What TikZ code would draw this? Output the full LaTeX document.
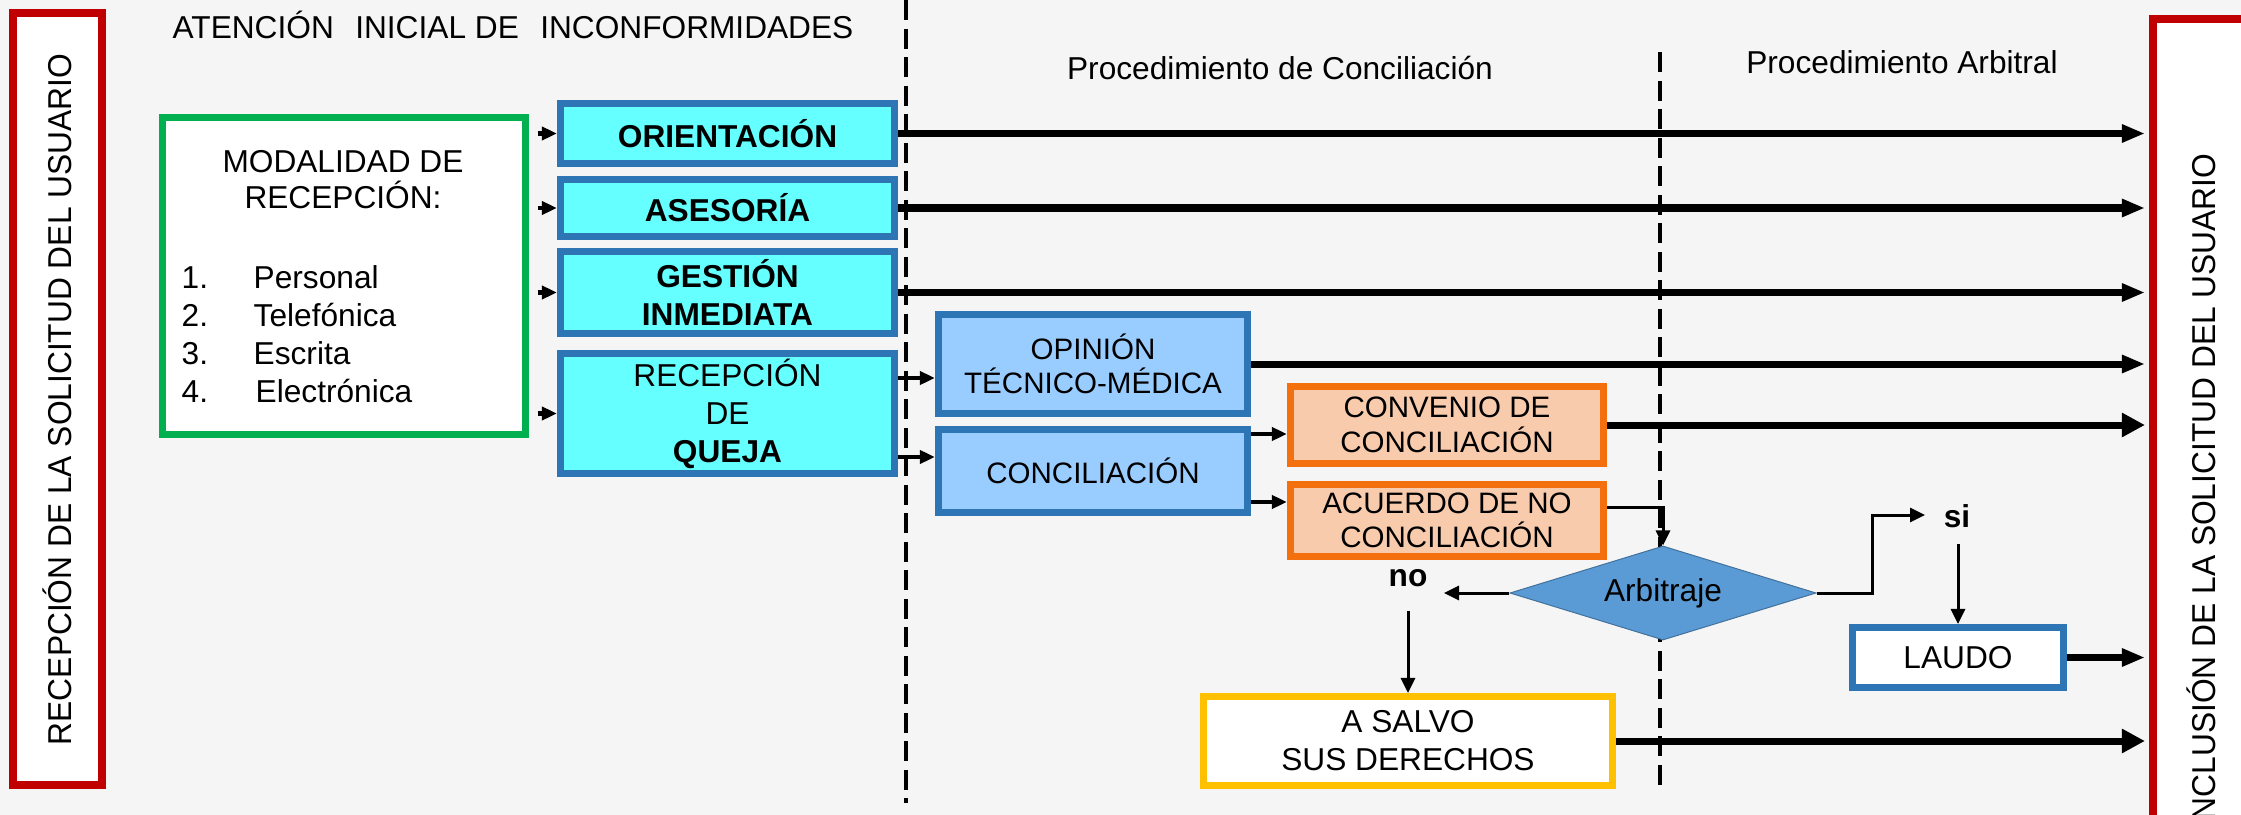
\documentclass[tikz,border=0pt]{standalone}
\usepackage{fontspec}
\setmainfont{Liberation Sans}
\usetikzlibrary{arrows.meta}
\usetikzlibrary{shapes.geometric}
\definecolor{fondo}{HTML}{F5F5F5}
\definecolor{rojo}{HTML}{C00000}
\definecolor{verde}{HTML}{00B050}
\definecolor{azulborde}{HTML}{2E75B6}
\definecolor{cian}{HTML}{66FFFF}
\definecolor{celeste}{HTML}{99CCFF}
\definecolor{naranja}{HTML}{F4700F}
\definecolor{salmon}{HTML}{F8CBAD}
\definecolor{rombo}{HTML}{5B9BD5}
\definecolor{romboborde}{HTML}{41719C}
\definecolor{oro}{HTML}{FFC000}
\tikzset{
	texto/.style={inner sep=0pt, font=\fontsize{9}{10.8}\selectfont},
	caja/.style={draw, rectangle, line width=0.07cm, align=center, inner sep=0pt,
		font=\fontsize{9}{10.8}\selectfont},
	cajacian/.style={caja, draw=azulborde, fill=cian},
	cajaceleste/.style={caja, draw=azulborde, fill=celeste, font=\fontsize{8.4}{9.8}\selectfont},
	cajanaranja/.style={caja, draw=naranja, fill=salmon, font=\fontsize{8.4}{9.8}\selectfont},
	lateral/.style={draw=rojo, fill=white, rectangle, line width=0.08cm, inner sep=0pt},
	vertical/.style={rotate=90, inner sep=0pt, font=\fontsize{9.4}{11}\selectfont},
	flecha/.style={line width=0.045cm, -{Triangle[length=0.15cm,width=0.13cm]}},
	salida/.style={line width=0.07cm, -{Triangle[length=0.23cm,width=0.17cm]}, shorten >=0.04cm},
	salidagrande/.style={salida, -{Triangle[length=0.23cm,width=0.23cm]}},
	linea/.style={line width=0.03cm, -{Triangle[length=0.15cm,width=0.14cm]}},
	division/.style={line width=0.04cm, dash pattern=on 0.2cm off 0.085cm}
}

\begin{document}
\begin{tikzpicture}[x=0.01cm, y=-0.01cm]
	\useasboundingbox (0,0) rectangle (2241,815);
	\clip (0,0) rectangle (2241,815);
	\fill[fondo] (0,0) rectangle (2241,815);
	
	% divisiones
	\draw[division] (905.5,0) -- (905.5,803);
	\draw[division] (1660,52) -- (1660,785);
	
	% encabezados
	\node[texto] (titulo) at (513,25) {ATENCIÓN\hspace{0.4em} INICIAL DE\hspace{0.4em} INCONFORMIDADES};
	\node[texto] (conciliacion) at (1280,68) {Procedimiento de Conciliación};
	\node[texto] (arbitral) at (1902,62) {Procedimiento Arbitral};
	
	% laterales
	\node[lateral, minimum width=0.89cm, minimum height=7.72cm] (inicio) at (57.5,399) {};
	\node[vertical, anchor=base] (recepcion) at (71,399.5) {\scalebox{0.96}[1]{RECEPCIÓN DE LA SOLICITUD DEL USUARIO}};
	\node[lateral, minimum width=2.47cm, minimum height=9.81cm] (final) at (2276.5,509.5) {};
	\node[vertical, anchor=base east] (conclusion) at (2215,153) {\scalebox{0.96}[1]{CONCLUSIÓN DE LA SOLICITUD DEL USUARIO}};
	
	% modalidad de recepcion
	\node[caja, draw=verde, fill=white, minimum width=3.63cm, minimum height=3.17cm] (modalidad) at (344,276) {};
	\node[texto, align=center, font=\fontsize{9}{10.2}\selectfont] (modtitulo) at (343,180) {MODALIDAD DE\\RECEPCIÓN:};
	\node[texto, anchor=base west] (m1) at (181,288) {\makebox[0.72cm][l]{1.}Personal};
	\node[texto, anchor=base west] (m2) at (181,326) {\makebox[0.72cm][l]{2.}Telefónica};
	\node[texto, anchor=base west] (m3) at (181,364) {\makebox[0.72cm][l]{3.}Escrita};
	\node[texto, anchor=base west] (m4) at (181,402) {\makebox[0.72cm][l]{4.}\hspace{0.02cm}Electrónica};
	
	% atencion inicial
	\node[cajacian, minimum width=3.34cm, minimum height=0.60cm] (orientacion) at (727.5,133.5) {\textbf{ORIENTACIÓN}};
	\node[cajacian, minimum width=3.34cm, minimum height=0.57cm] (asesoria) at (727.5,208) {\textbf{ASESORÍA}};
	\node[cajacian, minimum width=3.34cm, minimum height=0.82cm] (gestion) at (727.5,292.5) {\textbf{GESTIÓN}\\\textbf{INMEDIATA}};
	\node[cajacian, minimum width=3.34cm, minimum height=1.20cm] (queja) at (727.5,413.5) {RECEPCIÓN\\DE\\\textbf{QUEJA}};
	
	% conciliacion
	\node[cajaceleste, minimum width=3.09cm, minimum height=0.99cm] (opinion) at (1093,364) {OPINIÓN\\TÉCNICO-MÉDICA};
	\node[cajaceleste, minimum width=3.09cm, minimum height=0.83cm] (concilia) at (1093,471) {CONCILIACIÓN};
	\node[cajanaranja, minimum width=3.13cm, minimum height=0.77cm] (convenio) at (1447,425) {CONVENIO DE\\CONCILIACIÓN};
	\node[cajanaranja, minimum width=3.13cm, minimum height=0.72cm] (acuerdo) at (1447,520.5) {ACUERDO DE NO\\CONCILIACIÓN};
	
	% arbitraje
	\node[diamond, draw=romboborde, fill=rombo, line width=0.01cm, aspect=3.25, inner sep=0pt,
		minimum width=3.06cm, minimum height=0.94cm, font=\fontsize{9}{10.8}\selectfont] (arbitraje) at (1663,593) {Arbitraje};
	\node[texto, font=\fontsize{9}{10.8}\selectfont\bfseries] (no) at (1408,578) {no};
	\node[texto, font=\fontsize{9}{10.8}\selectfont\bfseries] (si) at (1957,516) {si};
	\node[caja, draw=oro, fill=white, minimum width=4.09cm, minimum height=0.89cm] (salvo) at (1408,741) {A SALVO\\SUS DERECHOS};
	\node[caja, draw=azulborde, fill=white, minimum width=2.11cm, minimum height=0.60cm] (laudo) at (1958,657.5) {LAUDO};
	
	\coordinate (q1) at ([yshift=-0.14cm]opinion.west);
	\coordinate (q2) at ([yshift=0.14cm]concilia.west);
	\coordinate (c1) at ([yshift=-0.09cm]convenio.west);
	\coordinate (c2) at ([yshift=0.185cm]acuerdo.west);
	\coordinate (nofin) at (1444,593);
	\coordinate (noini) at (1408,611);
	\coordinate (sifin) at (1925,515);
	\coordinate (siini) at (1958,544);
	
	% flechas cortas
	\draw[flecha, shorten <=0.085cm] (modalidad.east |- orientacion.west) -- (orientacion.west);
	\draw[flecha, shorten <=0.085cm] (modalidad.east |- asesoria.west) -- (asesoria.west);
	\draw[flecha, shorten <=0.085cm] (modalidad.east |- gestion.west) -- (gestion.west);
	\draw[flecha, shorten <=0.085cm] (modalidad.east |- queja.west) -- (queja.west);
	\draw[flecha] (queja.east |- q1) -- (q1);
	\draw[flecha] (queja.east |- q2) -- (q2);
	\draw[flecha] (concilia.east |- c1) -- (c1);
	\draw[flecha] (concilia.east |- c2) -- (c2);
	
	% salidas
	\draw[salida] (orientacion.east) -- (orientacion.east -| final.west);
	\draw[salida] (asesoria.east) -- (asesoria.east -| final.west);
	\draw[salida] (gestion.east) -- (gestion.east -| final.west);
	\draw[salida] (opinion.east) -- (opinion.east -| final.west);
	\draw[salidagrande] (convenio.east) -- (convenio.east -| final.west);
	\draw[salida] (laudo.east) -- (laudo.east -| final.west);
	\draw[salidagrande] (salvo.east) -- (salvo.east -| final.west);
	
	% arbitraje
	\draw[linea] ([yshift=0.125cm]acuerdo.east) -| (arbitraje.north);
	\draw[linea] (arbitraje.west) -- (nofin);
	\draw[linea] (noini) -- (noini |- salvo.north);
	\draw[linea] (arbitraje.east) -- ++(56,0) |- (sifin);
	\draw[linea] (siini) -- (siini |- laudo.north);
\end{tikzpicture}
\end{document}
